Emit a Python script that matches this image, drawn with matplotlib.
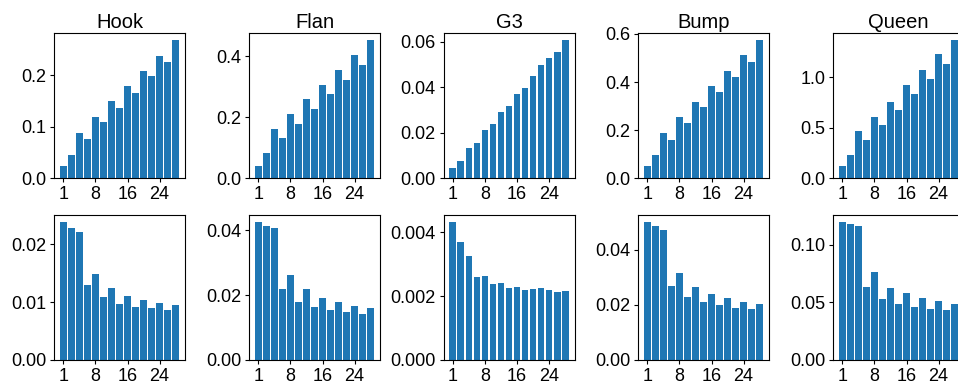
import matplotlib
matplotlib.use("Agg")
import matplotlib.pyplot as plt
from matplotlib.ticker import MaxNLocator
import numpy as np

plt.rcParams['font.family'] = ['Liberation Sans', 'DejaVu Sans']

titles = ["Hook", "Flan", "G3", "Bump", "Queen"]
tick_labels = ["1", "8", "16", "24"]
tick_idx = [0, 4, 8, 12]

hook_top = [0.0245, 0.045, 0.088, 0.077, 0.119, 0.109, 0.150, 0.137, 0.179, 0.166, 0.208, 0.199, 0.237, 0.226, 0.268]
flan_top = [0.0414, 0.083, 0.161, 0.133, 0.210, 0.178, 0.259, 0.227, 0.305, 0.276, 0.354, 0.322, 0.403, 0.371, 0.452]
g3_top = [0.0044, 0.0074, 0.0131, 0.0156, 0.0214, 0.0240, 0.0293, 0.0319, 0.0371, 0.0398, 0.0450, 0.0498, 0.0529, 0.0555, 0.0607]
bump_top = [0.0525, 0.097, 0.189, 0.159, 0.254, 0.230, 0.318, 0.297, 0.383, 0.358, 0.447, 0.422, 0.513, 0.484, 0.574]
queen_top = [0.125, 0.230, 0.467, 0.378, 0.605, 0.526, 0.753, 0.674, 0.921, 0.832, 1.069, 0.980, 1.227, 1.128, 1.365]

hook_bot = [0.0239, 0.0228, 0.0222, 0.0129, 0.0149, 0.0109, 0.0124, 0.0097, 0.0111, 0.0092, 0.0104, 0.0090, 0.0099, 0.0086, 0.0095]
flan_bot = [0.0425, 0.0411, 0.0405, 0.0218, 0.0261, 0.0178, 0.0218, 0.0163, 0.0190, 0.0153, 0.0178, 0.0147, 0.0166, 0.0141, 0.0160]
g3_bot = [0.00433, 0.00370, 0.00326, 0.00260, 0.00263, 0.00238, 0.00241, 0.00226, 0.00229, 0.00219, 0.00222, 0.00226, 0.00219, 0.00213, 0.00216]
bump_bot = [0.0500, 0.0484, 0.0471, 0.0269, 0.0314, 0.0228, 0.0264, 0.0210, 0.0239, 0.0199, 0.0224, 0.0188, 0.0210, 0.0184, 0.0202]
queen_bot = [0.1196, 0.1176, 0.1159, 0.0631, 0.0761, 0.0527, 0.0622, 0.0484, 0.0579, 0.0458, 0.0536, 0.0441, 0.0510, 0.0432, 0.0484]

top_rows = [hook_top, flan_top, g3_top, bump_top, queen_top]
bot_rows = [hook_bot, flan_bot, g3_bot, bump_bot, queen_bot]

W, H = 958, 381
fig = plt.figure(figsize=(W / 100, H / 100), dpi=100)

lefts = [54, 249, 443.5, 638, 833]
ax_w = 131
row_specs = [(33.3, 178.3), (215, 360)]

for r, (ytop, ybot) in enumerate(row_specs):
    for c in range(5):
        ax = fig.add_axes([lefts[c] / W, (H - ybot) / H, ax_w / W, (ybot - ytop) / H])
        vals = (top_rows if r == 0 else bot_rows)[c]
        x = np.arange(len(vals))
        ax.bar(x, vals, width=0.84, color="#1f77b4")
        ax.set_xticks(tick_idx)
        ax.set_xticklabels(tick_labels)
        ax.yaxis.set_major_locator(MaxNLocator(nbins=4, steps=[1, 2, 2.5, 5, 10]))
        ax.tick_params(labelsize=13, length=2.8, pad=2.8)
        if r == 0:
            ax.set_title(titles[c], fontsize=14.5, pad=3.6)

fig.savefig("out.png", dpi=100)
